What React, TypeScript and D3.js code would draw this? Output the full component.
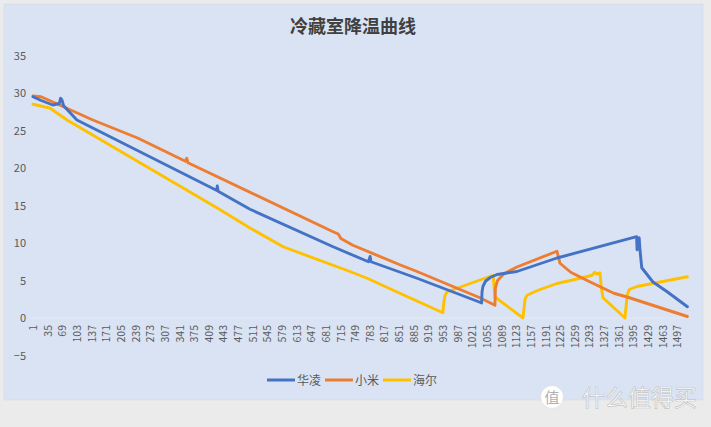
import * as d3 from "d3";
import React, { useRef, useEffect } from "react";

const W = 711;
const H = 427;

const title = "冷藏室降温曲线";
const seriesNames = ["华凌", "小米", "海尔"];
const seriesColors = ["#4472c4", "#ed7d31", "#ffc000"];

// sample index (x axis category) and temperature
const hualingIdx = [1, 20, 47, 62, 65, 68, 72, 103, 428, 429, 431, 505, 698, 780, 784, 786, 893, 1039, 1043, 1044, 1046, 1052, 1063, 1079, 1125, 1218, 1403, 1404, 1406, 1409, 1411, 1415, 1441, 1474, 1521];
const hualingTemp = [29.5, 29.0, 28.4, 28.6, 29.3, 29.1, 28.3, 26.4, 17.0, 17.6, 16.9, 14.5, 9.5, 7.5, 8.2, 7.5, 5.3, 2.1, 2.0, 3.5, 4.2, 4.9, 5.4, 5.8, 6.2, 8.0, 10.85, 9.1, 9.5, 10.7, 9.0, 6.7, 4.8, 3.5, 1.5];

const xiaomiIdx = [1, 20, 140, 244, 355, 358, 361, 698, 710, 716, 744, 853, 893, 1039, 1074, 1075, 1080, 1095, 1125, 1218, 1225, 1250, 1288, 1350, 1381, 1521];
const xiaomiTemp = [29.6, 29.5, 26.4, 24.0, 20.9, 21.3, 20.7, 11.5, 11.2, 10.6, 9.7, 7.1, 6.2, 2.7, 1.7, 4.0, 5.0, 5.9, 6.8, 8.9, 7.3, 6.1, 5.0, 3.3, 2.8, 0.2];

const haierIdx = [1, 40, 80, 428, 505, 582, 737, 777, 853, 953, 955, 958, 963, 1070, 1072, 1074, 1139, 1144, 1148, 1162, 1179, 1218, 1272, 1300, 1305, 1311, 1318, 1321, 1325, 1376, 1381, 1386, 1404, 1521];
const haierTemp = [28.5, 28.0, 26.4, 14.7, 12.0, 9.5, 6.2, 5.3, 3.3, 0.7, 2.0, 3.0, 3.5, 5.7, 4.0, 2.8, 0.0, 2.5, 3.0, 3.4, 3.8, 4.6, 5.3, 5.7, 6.1, 5.9, 6.0, 4.0, 2.7, 0.0, 3.0, 3.8, 4.2, 5.5];

const lastIdx = 1521;
const xTicks = d3.range(1, 1498, 34);
const yTicks = [-5, 0, 5, 10, 15, 20, 25, 30, 35];

const font = "'Noto Sans CJK SC', 'Noto Sans', sans-serif";

function App() {
  const ref = useRef<SVGSVGElement>(null);

  useEffect(() => {
    const svg = d3.select(ref.current);
    svg.selectAll("*").remove();

    const x = d3.scaleLinear().domain([1, lastIdx]).range([33, 687.4]);
    const y = d3.scaleLinear().domain([-5, 35]).range([355.5, 55.5]);

    // outer frame and chart area
    svg.append("rect").attr("width", W).attr("height", H).attr("fill", "#ebebeb");
    svg
      .append("rect")
      .attr("x", 4)
      .attr("y", 4)
      .attr("width", 699)
      .attr("height", 396)
      .attr("fill", "#dae3f3")
      .attr("stroke", "#d0d6e0")
      .attr("stroke-width", 0.5);

    svg
      .append("text")
      .attr("x", 353)
      .attr("y", 33)
      .attr("text-anchor", "middle")
      .attr("font-family", font)
      .attr("font-weight", 700)
      .attr("font-size", 18)
      .attr("fill", "#404040")
      .text(title);

    // y axis
    const yAxis = svg
      .append("g")
      .attr("transform", "translate(30,0)")
      .call(d3.axisLeft(y).tickValues(yTicks).tickSize(0).tickPadding(4));
    yAxis.select(".domain").remove();
    yAxis
      .selectAll("text")
      .attr("font-family", font)
      .attr("font-size", 11)
      .attr("fill", "#595959");

    // x axis on the zero line
    const xAxis = svg
      .append("g")
      .attr("transform", `translate(0,${y(0)})`)
      .call(d3.axisBottom(x).tickValues(xTicks).tickSize(0).tickFormat(d3.format("d")));
    xAxis.select(".domain").attr("stroke", "#e6ebf5").attr("stroke-width", 1).attr("d", `M30,0H${x(lastIdx) + 2}`);
    xAxis
      .selectAll("text")
      .attr("transform", "rotate(-90)")
      .attr("x", -7)
      .attr("y", 0)
      .attr("dy", "0.35em")
      .style("text-anchor", "end")
      .attr("font-family", font)
      .attr("font-size", 10.5)
      .attr("fill", "#595959");

    // lines
    const series = [
      { idx: hualingIdx, temp: hualingTemp },
      { idx: xiaomiIdx, temp: xiaomiTemp },
      { idx: haierIdx, temp: haierTemp },
    ];
    const line = d3
      .line<number>()
      .x((d) => x(d[0]))
      .y((d) => y(d[1]));

    // yellow first, then orange, blue on top like the reference
    [2, 1, 0].forEach((k) => {
      const s = series[k];
      const pts = s.idx.map((i, j) => [i, s.temp[j]]);
      svg
        .append("path")
        .datum(pts)
        .attr("d", line as any)
        .attr("fill", "none")
        .attr("stroke", seriesColors[k])
        .attr("stroke-width", 2.9)
        .attr("stroke-linejoin", "round")
        .attr("stroke-linecap", "round");
    });

    // legend
    const legendX = [267, 325, 383];
    const legend = svg
      .selectAll("g.legend")
      .data(seriesNames)
      .join("g")
      .attr("class", "legend")
      .attr("transform", (d, i) => `translate(${legendX[i]},380)`);
    legend
      .append("line")
      .attr("x1", 0)
      .attr("x2", 28)
      .attr("stroke", (d, i) => seriesColors[i])
      .attr("stroke-width", 3);
    legend
      .append("text")
      .attr("x", 30)
      .attr("y", 4.5)
      .attr("font-family", font)
      .attr("font-size", 12)
      .attr("fill", "#595959")
      .text((d) => d);

    // watermark
    svg
      .append("circle")
      .attr("cx", 552)
      .attr("cy", 397)
      .attr("r", 11.5)
      .attr("fill", "#ffffff")
      .attr("stroke", "#d0d0d0")
      .attr("stroke-width", 0.5);
    svg
      .append("text")
      .attr("x", 552)
      .attr("y", 403)
      .attr("text-anchor", "middle")
      .attr("font-family", font)
      .attr("font-size", 15)
      .attr("fill", "#b0b0b0")
      .text("值");
    svg
      .append("text")
      .attr("x", 582)
      .attr("y", 406)
      .attr("font-family", font)
      .attr("font-size", 23)
      .attr("fill", "#ffffff")
      .attr("stroke", "#c4c4c4")
      .attr("stroke-width", 0.7)
      .text("什么值得买");
  }, []);

  return (
    <svg
      ref={ref}
      width={W}
      height={H}
      style={{ position: "absolute", left: 0, top: 0 }}
    ></svg>
  );
}

export default App;
